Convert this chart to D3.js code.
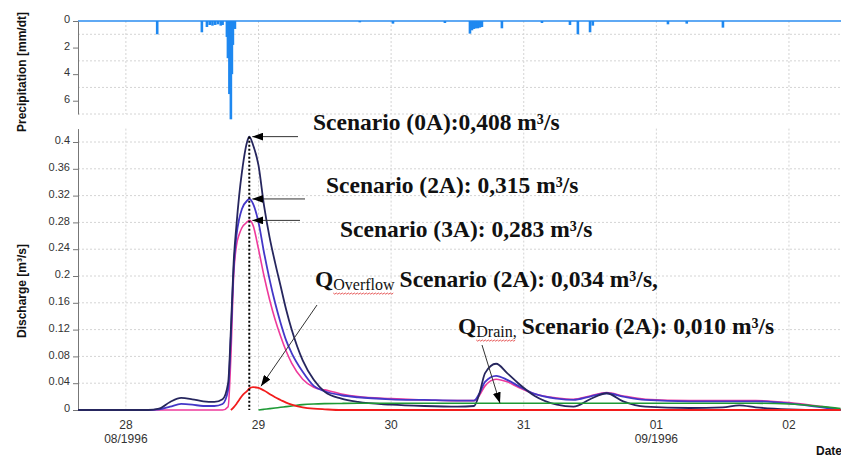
<!DOCTYPE html>
<html>
<head>
<meta charset="utf-8">
<script src="https://cdn.jsdelivr.net/npm/d3@7"></script>
<style>
  body { margin: 0; background: #fff; }
  text { font-family: 'Liberation Sans', Arial, sans-serif; }
  .tick text { font-size: 11px; fill: #333; }
  .title { font-size: 12px; font-weight: bold; fill: #111; }
  .note { font-family: 'Liberation Serif', 'Times New Roman', serif; font-size: 23.5px; font-weight: bold; fill: #111; }
  .sub { font-family: 'Liberation Serif', 'Times New Roman', serif; font-size: 16px; fill: #111; }
  .grid { stroke: #d4d4d4; stroke-dasharray: 2,2; }
</style>
</head>
<body>
<script>
const parseTime = d3.timeParse('%Y-%m-%d %H:%M');

// discharge series, all on the same time steps
const times = [
  '1996-08-27 15:20', '1996-08-28 04:00', '1996-08-28 06:00', '1996-08-28 08:00',
  '1996-08-28 10:00', '1996-08-28 12:00', '1996-08-28 14:00', '1996-08-28 16:00',
  '1996-08-28 17:30', '1996-08-28 18:30', '1996-08-28 19:00', '1996-08-28 19:30',
  '1996-08-28 20:00', '1996-08-28 20:30', '1996-08-28 21:00', '1996-08-28 22:00',
  '1996-08-28 22:20', '1996-08-28 23:00', '1996-08-29 00:00', '1996-08-29 01:00',
  '1996-08-29 02:00', '1996-08-29 03:00', '1996-08-29 04:00', '1996-08-29 05:00',
  '1996-08-29 06:00', '1996-08-29 08:00', '1996-08-29 10:00', '1996-08-29 12:00',
  '1996-08-29 15:00', '1996-08-29 18:00', '1996-08-30 00:00', '1996-08-30 06:00',
  '1996-08-30 12:00', '1996-08-30 15:00', '1996-08-30 16:00', '1996-08-30 17:00',
  '1996-08-30 19:00', '1996-08-30 21:00', '1996-08-30 23:00', '1996-08-31 02:00',
  '1996-08-31 06:00', '1996-08-31 09:00', '1996-08-31 12:00', '1996-08-31 15:00',
  '1996-08-31 18:00', '1996-08-31 22:00', '1996-09-01 06:00', '1996-09-01 12:00',
  '1996-09-01 15:00', '1996-09-01 18:00', '1996-09-02 00:00', '1996-09-02 06:00',
  '1996-09-02 09:20'
];

const q0A = [
  0, 0, 0.002, 0.012, 0.018, 0.016, 0.013, 0.012,
  0.016, 0.04, 0.12, 0.22, 0.275, 0.32, 0.355, 0.402,
  0.408, 0.396, 0.365, 0.305, 0.258, 0.22, 0.185, 0.15,
  0.12, 0.074, 0.045, 0.027, 0.017, 0.012, 0.008, 0.006,
  0.005, 0.006, 0.025, 0.055, 0.069, 0.055, 0.04, 0.021,
  0.008, 0.005, 0.016, 0.025, 0.013, 0.005, 0.003, 0.004,
  0.007, 0.004, 0.001, 0, 0
];

const q2A = [
  0, 0, 0.001, 0.005, 0.009, 0.008, 0.006, 0.006,
  0.009, 0.03, 0.11, 0.21, 0.26, 0.285, 0.3, 0.313,
  0.315, 0.308, 0.28, 0.235, 0.195, 0.16, 0.13, 0.104,
  0.085, 0.057, 0.036, 0.028, 0.022, 0.019, 0.016, 0.015,
  0.014, 0.014, 0.025, 0.042, 0.051, 0.045, 0.036, 0.024,
  0.017, 0.015, 0.02, 0.025, 0.02, 0.015, 0.013, 0.013,
  0.013, 0.013, 0.01, 0.004, 0
];

const q3A = [
  0, 0, 0, 0, 0, 0, 0, 0,
  0, 0.005, 0.08, 0.2, 0.245, 0.262, 0.272, 0.281,
  0.283, 0.276, 0.24, 0.2, 0.165, 0.135, 0.11, 0.088,
  0.07, 0.046, 0.034, 0.03, 0.024, 0.02, 0.017, 0.015,
  0.014, 0.014, 0.022, 0.036, 0.046, 0.042, 0.034, 0.024,
  0.018, 0.016, 0.021, 0.026, 0.021, 0.016, 0.014, 0.014,
  0.014, 0.014, 0.011, 0.005, 0.001
];

const qOverflow = [
  null, null, null, null, null, null, null, null,
  null, null, 0, 0.004, 0.009, 0.015, 0.021, 0.029,
  0.032, 0.034, 0.033, 0.029, 0.024, 0.019, 0.015, 0.011,
  0.008, 0.004, 0.002, 0.001, 0, 0, 0, 0,
  0, 0, 0, 0, 0, 0, 0, 0,
  0, 0, 0, 0, 0, 0, 0, 0,
  0, 0, 0, 0, 0
];

const qDrain = [
  null, null, null, null, null, null, null, null,
  null, null, null, null, null, null, null, null,
  null, null, 0, 0.001, 0.002, 0.003, 0.004, 0.005,
  0.006, 0.008, 0.009, 0.0095, 0.0098, 0.01, 0.01, 0.01,
  0.01, 0.01, 0.01, 0.01, 0.01, 0.01, 0.01, 0.01,
  0.01, 0.01, 0.01, 0.01, 0.01, 0.01, 0.01, 0.01,
  0.01, 0.01, 0.009, 0.005, 0.002
];

// precipitation per time step
const rainTimes = [
  '1996-08-28 05:40', '1996-08-28 13:45', '1996-08-28 14:40', '1996-08-28 15:10',
  '1996-08-28 15:40', '1996-08-28 16:10', '1996-08-28 16:40', '1996-08-28 17:10',
  '1996-08-28 17:30', '1996-08-28 18:17', '1996-08-28 18:28', '1996-08-28 18:44',
  '1996-08-28 19:00', '1996-08-28 19:11', '1996-08-28 19:22', '1996-08-28 19:44',
  '1996-08-29 18:20', '1996-08-30 00:20', '1996-08-30 09:44', '1996-08-30 14:16',
  '1996-08-30 14:38', '1996-08-30 15:00', '1996-08-30 15:20', '1996-08-30 15:42',
  '1996-08-30 16:04', '1996-08-30 16:26', '1996-08-30 20:03', '1996-08-31 03:18',
  '1996-08-31 08:22', '1996-08-31 09:48', '1996-08-31 12:00', '1996-08-31 12:30',
  '1996-09-01 02:06', '1996-09-01 05:30', '1996-09-01 12:03'
];
const rainValues = [
  1.0, 0.85, 0.45, 0.3, 0.35, 0.3, 0.25, 0.35,
  0.3, 1.2, 2.8, 5.5, 7.4, 4.0, 1.8, 0.6,
  0.1, 0.2, 0.15, 0.95, 0.7, 0.6, 0.55, 0.55,
  0.5, 0.45, 0.55, 0.15, 0.3, 1.0, 0.85, 0.35,
  0.25, 0.2, 0.5
];

const dischargeTicks = [0, 0.04, 0.08, 0.12, 0.16, 0.2, 0.24, 0.28, 0.32, 0.36, 0.4];
const rainTicks = [0, 2, 4, 6];
const rainGrid = [1, 3, 5, 7];
const dayTicks = ['1996-08-28 00:00', '1996-08-29 00:00', '1996-08-30 00:00',
  '1996-08-31 00:00', '1996-09-01 00:00', '1996-09-02 00:00'];
const dayLabels = ['28', '29', '30', '31', '01', '02'];
const monthLabels = ['08/1996', '', '', '', '09/1996', ''];

const peakNotes = ['Scenario (0A):0,408 m³/s', 'Scenario (2A): 0,315 m³/s', 'Scenario (3A): 0,283 m³/s'];

const width = 841, height = 457;

var svg = d3.select('body').append('svg')
  .attr('width', width)
  .attr('height', height);

var x = d3.scaleTime()
  .domain([parseTime('1996-08-27 15:20'), parseTime('1996-09-02 09:25')])
  .range([78, 841]);

var yQ = d3.scaleLinear().domain([0, 0.42]).range([410, 128.6]);
var yP = d3.scaleLinear().domain([0, 7]).range([21, 114]);

var dates = times.map(parseTime);

// arrow head
svg.append('defs').append('marker')
  .attr('id', 'head')
  .attr('markerUnits', 'userSpaceOnUse')
  .attr('markerWidth', 11).attr('markerHeight', 8)
  .attr('refX', 11).attr('refY', 4)
  .attr('orient', 'auto')
  .append('path')
  .attr('d', 'M0,0 L11,4 L0,8 Z')
  .attr('fill', '#000');

// grid lines
var grid = svg.append('g');
grid.selectAll('.gp').data(rainGrid).enter().append('line')
  .attr('class', 'grid')
  .attr('x1', 78).attr('x2', width)
  .attr('y1', d => yP(d)).attr('y2', d => yP(d));
grid.selectAll('.gq').data(dischargeTicks.slice(1)).enter().append('line')
  .attr('class', 'grid')
  .attr('x1', 78).attr('x2', width)
  .attr('y1', d => yQ(d)).attr('y2', d => yQ(d));
dayTicks.forEach(function (t) {
  var xx = x(parseTime(t));
  grid.append('line').attr('class', 'grid')
    .attr('x1', xx).attr('x2', xx).attr('y1', yP(0)).attr('y2', yP(7));
  grid.append('line').attr('class', 'grid')
    .attr('x1', xx).attr('x2', xx).attr('y1', yQ(0.42)).attr('y2', yQ(0));
});

// precipitation panel
svg.append('line')
  .attr('x1', 78).attr('x2', width)
  .attr('y1', yP(0)).attr('y2', yP(0))
  .attr('stroke', '#2a8cf0').attr('stroke-width', 1.5);

svg.append('g').selectAll('rect')
  .data(rainTimes.map((t, i) => ({ t: parseTime(t), v: rainValues[i] })))
  .enter().append('rect')
  .attr('x', d => x(d.t) - 1.3)
  .attr('y', yP(0))
  .attr('width', 2.6)
  .attr('height', d => yP(d.v) - yP(0))
  .attr('fill', '#1e88f0');

var axP = svg.append('g')
  .attr('transform', 'translate(78,0)')
  .call(d3.axisLeft(yP).tickValues(rainTicks).tickSize(5).tickSizeOuter(0).tickFormat(d => String(d)));
axP.selectAll('.tick text').attr('dy', '0.15em');

// discharge panel
var axQ = svg.append('g')
  .attr('transform', 'translate(78,0)')
  .call(d3.axisLeft(yQ).tickValues(dischargeTicks).tickSize(5).tickSizeOuter(0).tickFormat(d => String(d)));
axQ.selectAll('.tick text').attr('dy', '0.15em');

[axP, axQ].forEach(function (ax) {
  ax.select('.domain').attr('stroke', '#777');
  ax.selectAll('.tick line').attr('stroke', '#777');
});

var series = [
  { values: q3A, color: '#ee3a9c', w: 1.6 },
  { values: q2A, color: '#4437c8', w: 1.8 },
  { values: q0A, color: '#26265e', w: 1.8 },
  { values: qDrain, color: '#1e9a35', w: 1.6 },
  { values: qOverflow, color: '#f21c1c', w: 1.8 }
];

var line = d3.line()
  .defined(d => d.v !== null)
  .x(d => x(d.t))
  .y(d => yQ(d.v))
  .curve(d3.curveMonotoneX);

svg.append('g').selectAll('path')
  .data(series)
  .enter().append('path')
  .attr('d', s => line(s.values.map((v, i) => ({ t: dates[i], v: v }))))
  .attr('fill', 'none')
  .attr('stroke', s => s.color)
  .attr('stroke-width', s => s.w);

// time of the main peak
var iPeak = d3.maxIndex(q0A);
svg.append('line')
  .attr('x1', x(dates[iPeak])).attr('x2', x(dates[iPeak]))
  .attr('y1', yQ(q0A[iPeak])).attr('y2', yQ(0))
  .attr('stroke', '#000').attr('stroke-width', 2)
  .attr('stroke-dasharray', '2,2');

// x axis labels
var xl = svg.append('g').style('font-size', '12px').attr('fill', '#333');
dayTicks.forEach(function (t, i) {
  var xx = x(parseTime(t));
  xl.append('text').attr('x', xx).attr('y', 429)
    .attr('text-anchor', 'middle').text(dayLabels[i]);
  if (monthLabels[i]) {
    xl.append('text').attr('x', xx).attr('y', 443)
      .attr('text-anchor', 'middle').text(monthLabels[i]);
  }
});
svg.append('text').attr('class', 'title').attr('x', 816).attr('y', 455).text('Date');

// axis titles
svg.append('text').attr('class', 'title')
  .attr('transform', 'translate(26,72) rotate(-90)')
  .attr('text-anchor', 'middle')
  .text('Precipitation [mm/dt]');
svg.append('text').attr('class', 'title')
  .attr('transform', 'translate(26,291) rotate(-90)')
  .attr('text-anchor', 'middle')
  .text('Discharge [m³/s]');

// peak annotations with arrows
var notePos = [[313, 130, 298], [326, 193, 305], [340, 237, 300]];
[q0A, q2A, q3A].forEach(function (s, i) {
  var k = d3.maxIndex(s);
  var tipX = x(dates[k]) + 3, tipY = yQ(s[k]);
  svg.append('line')
    .attr('x1', notePos[i][2]).attr('y1', tipY)
    .attr('x2', tipX).attr('y2', tipY)
    .attr('stroke', '#333').attr('stroke-width', 1)
    .attr('marker-end', 'url(#head)');
  svg.append('text').attr('class', 'note')
    .attr('x', notePos[i][0]).attr('y', notePos[i][1])
    .text(peakNotes[i]);
});

function qNote(x0, y0, sub, rest) {
  var g = svg.append('g');
  var q = g.append('text').attr('class', 'note').attr('x', x0).attr('y', y0).text('Q');
  var qw = q.node().getComputedTextLength();
  var s = g.append('text').attr('class', 'sub').attr('x', x0 + qw).attr('y', y0 + 3).text(sub);
  var sw = s.node().getComputedTextLength();
  // red wavy underline under the subscript
  var pts = [];
  for (var i = 0; i <= sw; i += 1.5) pts.push([x0 + qw + i, y0 + 6 + (Math.round(i / 1.5) % 2 ? 1.2 : 0)]);
  g.append('path').attr('d', d3.line()(pts))
    .attr('fill', 'none').attr('stroke', '#e03030').attr('stroke-width', 0.8);
  g.append('text').attr('class', 'note').attr('x', x0 + qw + sw + 5).attr('y', y0).text(rest);
}

qNote(315, 287, 'Overflow', 'Scenario (2A): 0,034 m³/s,');
qNote(458, 334, 'Drain,', 'Scenario (2A): 0,010 m³/s');

// arrow to the overflow peak
var kO = d3.maxIndex(qOverflow);
svg.append('line')
  .attr('x1', 317).attr('y1', 305)
  .attr('x2', x(dates[kO]) + 8).attr('y2', yQ(qOverflow[kO]) - 1)
  .attr('stroke', '#333').attr('stroke-width', 1)
  .attr('marker-end', 'url(#head)');

// arrow to the drain line
svg.append('line')
  .attr('x1', 482).attr('y1', 345)
  .attr('x2', 500).attr('y2', yQ(0.01))
  .attr('stroke', '#333').attr('stroke-width', 1)
  .attr('marker-end', 'url(#head)');
</script>
</body>
</html>
